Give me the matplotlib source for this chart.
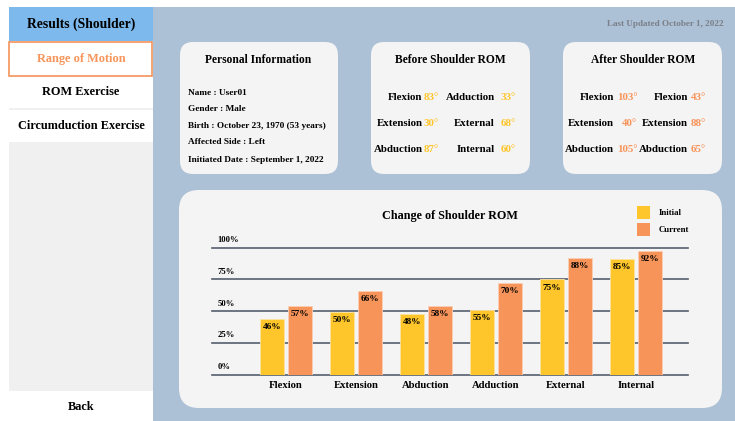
import matplotlib
matplotlib.use("Agg")
import matplotlib.pyplot as plt
from matplotlib.patches import Rectangle, FancyBboxPatch

plt.rcParams['font.family'] = ['Liberation Serif', 'DejaVu Serif']
plt.rcParams['font.weight'] = 'bold'

# chart data
categories = ['Flexion', 'Extension', 'Abduction', 'Adduction', 'External', 'Internal']
initial_pct = [46, 50, 48, 55, 75, 85]
current_pct = [57, 66, 58, 70, 88, 92]
# bar lengths as drawn in the picture
initial_bar = [44, 49.5, 47.5, 51, 75, 91]
current_bar = [54, 66, 54, 72, 92, 97.5]
yticks = [0, 25, 50, 75, 100]
series_names = ['Initial', 'Current']

menu_items = ['Range of Motion', 'ROM Exercise', 'Circumduction Exercise']
info_lines = ['Name : User01', 'Gender : Male', 'Birth : October 23, 1970 (53 years)',
              'Affected Side : Left', 'Initiated Date : September 1, 2022']
before_left = [('Flexion', '83°'), ('Extension', '30°'), ('Abduction', '87°')]
before_right = [('Adduction', '33°'), ('External', '68°'), ('Internal', '60°')]
after_left = [('Flexion', '103°'), ('Extension', '40°'), ('Abduction', '105°')]
after_right = [('Flexion', '43°'), ('Extension', '88°'), ('Abduction', '65°')]

YELLOW = '#fec62b'
ORANGE = '#f7945a'
MAIN_BG = '#adc1d6'
CARD = '#f4f4f4'

W, H = 735, 421
fig = plt.figure(figsize=(W / 100, H / 100), dpi=100)
fig.patch.set_facecolor('white')

bg = fig.add_axes([0, 0, 1, 1])
bg.set_xlim(0, W)
bg.set_ylim(H, 0)
bg.axis('off')

# main area and sidebar
bg.add_patch(Rectangle((153, 7), W - 153, H - 7, color=MAIN_BG, lw=0))
bg.add_patch(Rectangle((9, 7), 144, H - 7, color='#f0f0f0', lw=0))
bg.add_patch(Rectangle((9, 7), 144, 34, color='#7db9ec', lw=0))
bg.text(81, 24, 'Results (Shoulder)', ha='center', va='center', fontsize=9.8)

bg.add_patch(Rectangle((9.5, 41.5), 143, 34, facecolor='white', edgecolor=ORANGE, lw=1.2))
bg.add_patch(Rectangle((9, 76.5), 144, 31, facecolor='white', edgecolor='none'))
bg.add_patch(Rectangle((9, 109.5), 144, 32, facecolor='white', edgecolor='none'))
menu_y = [59, 92, 126]
for i, item in enumerate(menu_items):
    bg.text(81, menu_y[i], item, ha='center', va='center', fontsize=8.8,
            color=ORANGE if i == 0 else 'black')

bg.add_patch(Rectangle((9, 391), 144, 30, facecolor='white', edgecolor='none'))
bg.text(81, 407, 'Back', ha='center', va='center', fontsize=8.8)

bg.text(724, 24.5, 'Last Updated October 1, 2022', ha='right', va='center',
        fontsize=6.6, color='#7a7f88')


def card(x0, y0, x1, y1, r):
    bg.add_patch(FancyBboxPatch((x0, y0), x1 - x0, y1 - y0,
                                boxstyle='round,pad=0,rounding_size=%d' % r,
                                facecolor=CARD, edgecolor='none'))


card(180, 42, 338, 174, 13)
card(371, 42, 530, 174, 13)
card(563, 42, 722, 174, 13)
card(179, 190, 722, 408, 20)

# personal information
bg.text(258, 60, 'Personal Information', ha='center', va='center', fontsize=8.3)
info_y = [93, 109, 126, 142.5, 159.5]
for i, line in enumerate(info_lines):
    bg.text(188.5, info_y[i], line, ha='left', va='center', fontsize=6.65)

row_y = [97.5, 123, 149]


def rom_card(title, cx, left, right, cols, vcol):
    bg.text(cx, 60, title, ha='center', va='center', fontsize=8.3)
    for pairs, (lx, vx) in zip([left, right], cols):
        for i in range(3):
            bg.text(lx, row_y[i], pairs[i][0], ha='right', va='center', fontsize=7.8)
            bg.text(vx, row_y[i], pairs[i][1], ha='right', va='center', fontsize=7.8,
                    color=vcol)


rom_card('Before Shoulder ROM', 450, before_left, before_right,
         [(422.5, 438.5), (495, 516)], YELLOW)
rom_card('After Shoulder ROM', 643, after_left, after_right,
         [(614, 637.5), (688, 706)], ORANGE)

# bar chart
bg.text(450, 215.5, 'Change of Shoulder ROM', ha='center', va='center', fontsize=8.7)

ax = fig.add_axes([212 / W, (H - 374.5) / H, 476 / W, 127 / H])
ax.set_facecolor('none')
ax.set_xlim(-1.057, 5.743)
ax.set_ylim(0, 100)
for s in ax.spines.values():
    s.set_visible(False)
for v in yticks:
    ax.axhline(v, color='#545e6d', lw=1.2, zorder=1, clip_on=False)
    ax.text(0.011, v + 5.9, '%d%%' % v, transform=ax.get_yaxis_transform(),
            ha='left', va='center', fontsize=6.2)
ax.set_yticks([])

x = list(range(len(categories)))
bw = 0.33
ax.bar([i - 0.2 for i in x], initial_bar, bw, color=YELLOW, zorder=2,
       edgecolor='#fde3a0', lw=0.6)
ax.bar([i + 0.2 for i in x], current_bar, bw, color=ORANGE, zorder=2,
       edgecolor='#fbd0b5', lw=0.6)
for i in x:
    ax.text(i - 0.2, initial_bar[i] - 6.5, '%d%%' % initial_pct[i], ha='center',
            va='center', fontsize=6.7, zorder=3)
    ax.text(i + 0.2, current_bar[i] - 6.5, '%d%%' % current_pct[i], ha='center',
            va='center', fontsize=6.7, zorder=3)
ax.set_xticks(x)
ax.set_xticklabels(categories, fontsize=7.7)
ax.tick_params(axis='x', length=0, pad=5)

# legend
for k, (name, col) in enumerate(zip(series_names, [YELLOW, ORANGE])):
    y0 = 206 + 17 * k
    bg.add_patch(Rectangle((637, y0), 13, 13, color=col, lw=0))
    bg.text(659, y0 + 7, name, ha='left', va='center', fontsize=6.3)

fig.savefig('out.png', dpi=100)
